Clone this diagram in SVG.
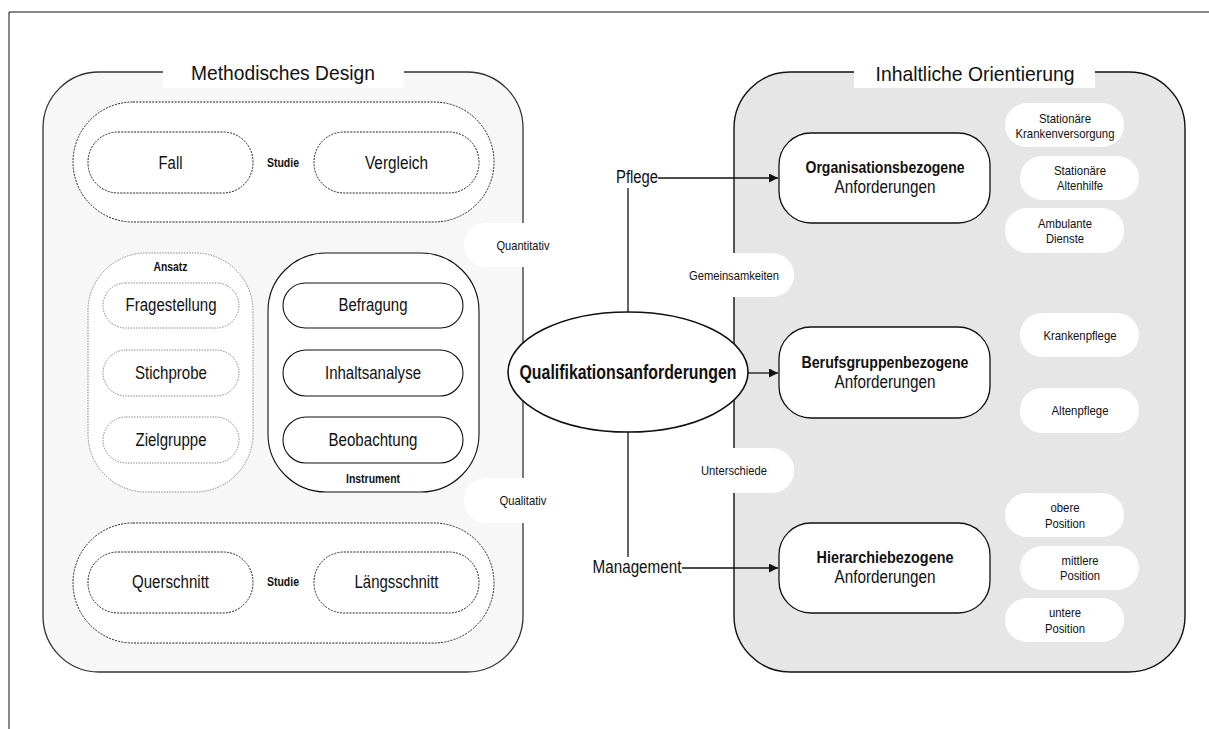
<svg xmlns="http://www.w3.org/2000/svg" width="1209" height="729" viewBox="0 0 1209 729">
  <style>
    text { font-family: "Liberation Sans", Arial, sans-serif; fill: #111; text-anchor: middle; dominant-baseline: central; }
    .title { font-size: 21px; }
    .lbl { font-size: 17.5px; }
    .small { font-size: 13px; }
    .tag { font-size: 12.5px; font-weight: bold; }
    .bold { font-size: 17px; font-weight: bold; }
    .core { font-size: 19.5px; font-weight: bold; }
    .dash { fill: #fff; stroke: #222; stroke-width: 1; stroke-dasharray: 2 1.2; }
    .dot { fill: #fff; stroke: #888; stroke-width: 1; stroke-dasharray: 1.5 1.2; }
    .solid { fill: #fff; stroke: #111; stroke-width: 1.1; }
    .pill { fill: #fff; stroke: none; }
    .box { fill: #fff; stroke: #111; stroke-width: 1.3; }
    .wire { fill: none; stroke: #111; stroke-width: 1.3; }
  </style>
  <defs>
    <marker id="arrow" viewBox="0 0 10 10" refX="10" refY="5" markerWidth="10" markerHeight="9" markerUnits="userSpaceOnUse" orient="auto">
      <path d="M0,0 L10,5 L0,10 z" fill="#111"/>
    </marker>
  </defs>

  <!-- page frame -->
  <path d="M9,729 V12 H1209" fill="none" stroke="#111" stroke-width="1"/>

  <!-- left panel: method design -->
  <g id="panel-method">
    <rect x="43" y="72" width="480" height="600" rx="56" fill="#f7f7f7" stroke="#333" stroke-width="1.3"/>
    <rect x="163" y="60" width="241" height="28" fill="#fff"/>
    <text class="title" x="283" y="72" textLength="184" lengthAdjust="spacingAndGlyphs">Methodisches Design</text>
  </g>

  <!-- right panel: content orientation -->
  <g id="panel-content">
    <rect x="734" y="72" width="451" height="600" rx="56" fill="#e6e6e6" stroke="#111" stroke-width="1.4"/>
    <rect x="854" y="60" width="241" height="28" fill="#fff"/>
    <text class="title" x="975" y="73" textLength="199" lengthAdjust="spacingAndGlyphs">Inhaltliche Orientierung</text>
  </g>

  <!-- study group (top) -->
  <g id="studie-top">
    <rect class="dash" x="73" y="102" width="421" height="120" rx="60"/>
    <text class="tag" x="283" y="163" textLength="32" lengthAdjust="spacingAndGlyphs">Studie</text>
  </g>
  <g id="fall">
    <rect class="dash" x="88" y="132" width="165" height="61" rx="30"/>
    <text class="lbl" x="170.5" y="163" textLength="24" lengthAdjust="spacingAndGlyphs">Fall</text>
  </g>
  <g id="vergleich">
    <rect class="dash" x="314" y="132" width="165" height="61" rx="30"/>
    <text class="lbl" x="396.5" y="163" textLength="63" lengthAdjust="spacingAndGlyphs">Vergleich</text>
  </g>

  <!-- approach group -->
  <g id="ansatz">
    <rect class="dot" x="88" y="253" width="165" height="239" rx="58"/>
    <text class="tag" x="170.5" y="267" textLength="34" lengthAdjust="spacingAndGlyphs">Ansatz</text>
  </g>
  <g id="fragestellung">
    <rect class="dot" x="103" y="283" width="136" height="45" rx="22.5"/>
    <text class="lbl" x="171" y="305" textLength="91" lengthAdjust="spacingAndGlyphs">Fragestellung</text>
  </g>
  <g id="stichprobe">
    <rect class="dot" x="103" y="350" width="136" height="46" rx="23"/>
    <text class="lbl" x="171" y="373" textLength="72" lengthAdjust="spacingAndGlyphs">Stichprobe</text>
  </g>
  <g id="zielgruppe">
    <rect class="dot" x="103" y="417" width="136" height="46" rx="23"/>
    <text class="lbl" x="171" y="440" textLength="71" lengthAdjust="spacingAndGlyphs">Zielgruppe</text>
  </g>

  <!-- instrument group -->
  <g id="instrument">
    <rect class="solid" x="268" y="253" width="211" height="239" rx="58"/>
    <text class="tag" x="373" y="479" textLength="54" lengthAdjust="spacingAndGlyphs">Instrument</text>
  </g>
  <g id="befragung">
    <rect class="solid" x="283" y="283" width="180" height="45" rx="22.5"/>
    <text class="lbl" x="373" y="305" textLength="69" lengthAdjust="spacingAndGlyphs">Befragung</text>
  </g>
  <g id="inhaltsanalyse">
    <rect class="solid" x="283" y="350" width="180" height="46" rx="23"/>
    <text class="lbl" x="373" y="373" textLength="96" lengthAdjust="spacingAndGlyphs">Inhaltsanalyse</text>
  </g>
  <g id="beobachtung">
    <rect class="solid" x="283" y="417" width="180" height="46" rx="23"/>
    <text class="lbl" x="373" y="440" textLength="89" lengthAdjust="spacingAndGlyphs">Beobachtung</text>
  </g>

  <!-- study group (bottom) -->
  <g id="studie-bottom">
    <rect class="dash" x="73" y="523" width="421" height="120" rx="60"/>
    <text class="tag" x="283" y="582" textLength="32" lengthAdjust="spacingAndGlyphs">Studie</text>
  </g>
  <g id="querschnitt">
    <rect class="dash" x="88" y="552" width="165" height="61" rx="30"/>
    <text class="lbl" x="170.5" y="582" textLength="77" lengthAdjust="spacingAndGlyphs">Querschnitt</text>
  </g>
  <g id="laengsschnitt">
    <rect class="dash" x="314" y="552" width="165" height="61" rx="30"/>
    <text class="lbl" x="396.5" y="582" textLength="84" lengthAdjust="spacingAndGlyphs">Längsschnitt</text>
  </g>

  <!-- side labels between panels -->
  <g id="quantitativ">
    <rect class="pill" x="464" y="223" width="118" height="44" rx="22"/>
    <text class="small" x="523" y="245" textLength="53" lengthAdjust="spacingAndGlyphs">Quantitativ</text>
  </g>
  <g id="qualitativ">
    <rect class="pill" x="464" y="478" width="118" height="45" rx="22"/>
    <text class="small" x="523" y="500" textLength="47" lengthAdjust="spacingAndGlyphs">Qualitativ</text>
  </g>
  <g id="gemeinsamkeiten">
    <rect class="pill" x="674" y="253" width="120" height="44" rx="22"/>
    <text class="small" x="734" y="275" textLength="90" lengthAdjust="spacingAndGlyphs">Gemeinsamkeiten</text>
  </g>
  <g id="unterschiede">
    <rect class="pill" x="674" y="448" width="120" height="45" rx="22"/>
    <text class="small" x="734" y="470" textLength="66" lengthAdjust="spacingAndGlyphs">Unterschiede</text>
  </g>

  <!-- connectors -->
  <g id="connectors">
    <path class="wire" d="M628,312 V188"/>
    <path class="wire" d="M658,178 H778" marker-end="url(#arrow)"/>
    <path class="wire" d="M748,373 H778" marker-end="url(#arrow)"/>
    <path class="wire" d="M628,432 V557"/>
    <path class="wire" d="M682,568 H778" marker-end="url(#arrow)"/>
  </g>

  <g id="pflege">
    <text class="lbl" x="637" y="177" textLength="42" lengthAdjust="spacingAndGlyphs">Pflege</text>
  </g>
  <g id="management">
    <text class="lbl" x="637" y="567" textLength="89" lengthAdjust="spacingAndGlyphs">Management</text>
  </g>

  <!-- central node -->
  <g id="qualifikationsanforderungen">
    <ellipse cx="628" cy="372" rx="120" ry="60" fill="#fff" stroke="#111" stroke-width="1.6"/>
    <text class="core" x="628" y="372" textLength="217" lengthAdjust="spacingAndGlyphs">Qualifikationsanforderungen</text>
  </g>

  <!-- requirement boxes -->
  <g id="organisation">
    <rect class="box" x="779" y="133" width="211" height="90" rx="32"/>
    <text class="bold" x="885" y="167" textLength="159" lengthAdjust="spacingAndGlyphs">Organisationsbezogene</text>
    <text class="lbl" x="885" y="187" textLength="101" lengthAdjust="spacingAndGlyphs">Anforderungen</text>
  </g>
  <g id="berufsgruppe">
    <rect class="box" x="779" y="327" width="211" height="91" rx="32"/>
    <text class="bold" x="885" y="362" textLength="167" lengthAdjust="spacingAndGlyphs">Berufsgruppenbezogene</text>
    <text class="lbl" x="885" y="382" textLength="101" lengthAdjust="spacingAndGlyphs">Anforderungen</text>
  </g>
  <g id="hierarchie">
    <rect class="box" x="779" y="523" width="211" height="90" rx="32"/>
    <text class="bold" x="885" y="557" textLength="137" lengthAdjust="spacingAndGlyphs">Hierarchiebezogene</text>
    <text class="lbl" x="885" y="577" textLength="101" lengthAdjust="spacingAndGlyphs">Anforderungen</text>
  </g>

  <!-- detail pills -->
  <g id="stationaer-kranken">
    <rect class="pill" x="1005" y="103" width="119" height="44" rx="22"/>
    <text class="small" x="1065" y="118" textLength="52" lengthAdjust="spacingAndGlyphs">Stationäre</text>
    <text class="small" x="1065" y="133" textLength="99" lengthAdjust="spacingAndGlyphs">Krankenversorgung</text>
  </g>
  <g id="stationaer-alten">
    <rect class="pill" x="1020" y="156" width="119" height="44" rx="22"/>
    <text class="small" x="1080" y="170" textLength="52" lengthAdjust="spacingAndGlyphs">Stationäre</text>
    <text class="small" x="1080" y="185" textLength="46" lengthAdjust="spacingAndGlyphs">Altenhilfe</text>
  </g>
  <g id="ambulant">
    <rect class="pill" x="1005" y="208" width="119" height="45" rx="22"/>
    <text class="small" x="1065" y="223" textLength="54" lengthAdjust="spacingAndGlyphs">Ambulante</text>
    <text class="small" x="1065" y="238" textLength="38" lengthAdjust="spacingAndGlyphs">Dienste</text>
  </g>
  <g id="krankenpflege">
    <rect class="pill" x="1020" y="313" width="119" height="44" rx="22"/>
    <text class="small" x="1080" y="335" textLength="73" lengthAdjust="spacingAndGlyphs">Krankenpflege</text>
  </g>
  <g id="altenpflege">
    <rect class="pill" x="1020" y="388" width="119" height="45" rx="22"/>
    <text class="small" x="1080" y="410" textLength="57" lengthAdjust="spacingAndGlyphs">Altenpflege</text>
  </g>
  <g id="obere">
    <rect class="pill" x="1005" y="493" width="119" height="44" rx="22"/>
    <text class="small" x="1065" y="507" textLength="29" lengthAdjust="spacingAndGlyphs">obere</text>
    <text class="small" x="1065" y="523" textLength="40" lengthAdjust="spacingAndGlyphs">Position</text>
  </g>
  <g id="mittlere">
    <rect class="pill" x="1020" y="546" width="119" height="44" rx="22"/>
    <text class="small" x="1080" y="560" textLength="37" lengthAdjust="spacingAndGlyphs">mittlere</text>
    <text class="small" x="1080" y="575" textLength="40" lengthAdjust="spacingAndGlyphs">Position</text>
  </g>
  <g id="untere">
    <rect class="pill" x="1005" y="598" width="119" height="44" rx="22"/>
    <text class="small" x="1065" y="612" textLength="32" lengthAdjust="spacingAndGlyphs">untere</text>
    <text class="small" x="1065" y="628" textLength="40" lengthAdjust="spacingAndGlyphs">Position</text>
  </g>
</svg>
